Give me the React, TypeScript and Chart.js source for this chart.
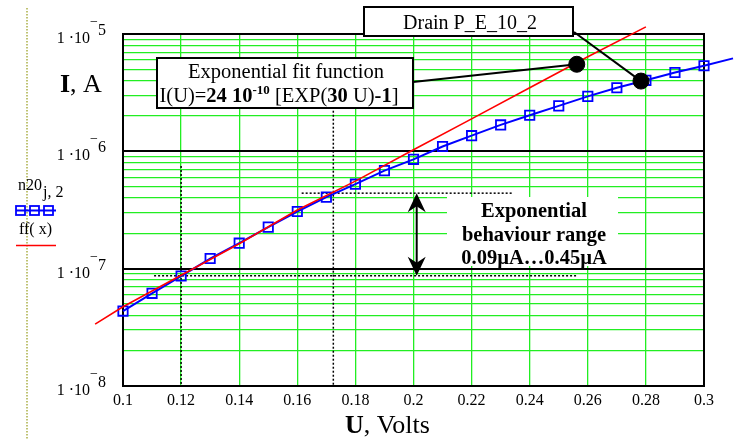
import React, { useEffect, useRef } from "react";
import { Chart, registerables } from "chart.js";

Chart.register(...registerables);

// ---- data ----
const uValues = [0.1, 0.11, 0.12, 0.13, 0.14, 0.15, 0.16, 0.17, 0.18, 0.19, 0.2, 0.21, 0.22, 0.23, 0.24, 0.25, 0.26, 0.27, 0.28, 0.29, 0.3, 0.31];
const iValues = [4.35e-8, 6.16e-8, 8.65e-8, 1.22e-7, 1.65e-7, 2.26e-7, 3.07e-7, 4.07e-7, 5.25e-7, 6.85e-7, 8.55e-7, 1.1e-6, 1.36e-6, 1.68e-6, 2.03e-6, 2.44e-6, 2.94e-6, 3.48e-6, 4.03e-6, 4.7e-6, 5.36e-6, 6.2e-6];
const fitU = [0.0904, 0.1, 0.12, 0.14, 0.16, 0.18, 0.2, 0.22, 0.24, 0.26, 0.28];
const fitI = [3.37e-8, 4.74e-8, 8.8e-8, 1.63e-7, 3.16e-7, 5.57e-7, 1.03e-6, 1.89e-6, 3.48e-6, 6.39e-6, 1.15e-5];
const markerU = [0.2562, 0.2783];
const markerI = [5.52e-6, 3.97e-6];

// guide lines (dotted)
const guideVU = [0.12, 0.1724];
const guideVTop = [7.5e-7, 2.4e-6];
const guideHLevel = [4.4e-7, 8.7e-8];
const guideHFrom = [0.1615, 0.1107];
const guideHTo = [0.2338, 0.2563];
const arrowU = 0.2011;

// ticks
const xTicks = [0.1, 0.12, 0.14, 0.16, 0.18, 0.2, 0.22, 0.24, 0.26, 0.28, 0.3];
const yDecadeExps = [-8, -7, -6, -5];
const yMinorMult = [1, 2, 3, 4, 5, 6, 7, 8, 9];

const X_MIN = 0.1;
const X_MAX = 0.3;
const Y_MIN = 1e-8;
const Y_MAX = 1e-5;

const FONT = "'Liberation Serif', 'Times New Roman', serif";

type Run = { t: string; bold?: boolean; size: number; dy?: number };

function fontOf(r: Run) {
  return `${r.bold ? "bold " : ""}${r.size}px ${FONT}`;
}
function runsWidth(ctx: CanvasRenderingContext2D, runs: Run[]) {
  let w = 0;
  for (const r of runs) {
    ctx.font = fontOf(r);
    w += ctx.measureText(r.t).width;
  }
  return w;
}
function drawRuns(ctx: CanvasRenderingContext2D, runs: Run[], x: number, y: number, align: "left" | "center" | "right") {
  const w = runsWidth(ctx, runs);
  let cx = align === "left" ? x : align === "center" ? x - w / 2 : x - w;
  ctx.textAlign = "left";
  ctx.textBaseline = "alphabetic";
  for (const r of runs) {
    ctx.font = fontOf(r);
    ctx.fillText(r.t, cx, y + (r.dy || 0));
    cx += ctx.measureText(r.t).width;
  }
}

function isDecade(v: number) {
  const l = Math.log10(v);
  return Math.abs(l - Math.round(l)) < 1e-6;
}

const overlay = {
  id: "overlay",
  beforeDatasetsDraw(chart: any) {
    const { ctx, chartArea: a } = chart;
    const xs = chart.scales.x;
    const ys = chart.scales.y;
    ctx.save();
    // frame
    ctx.strokeStyle = "#000";
    ctx.lineWidth = 2;
    ctx.setLineDash([]);
    ctx.strokeRect(a.left, a.top, a.right - a.left, a.bottom - a.top);

    // white area behind range text
    ctx.fillStyle = "#fff";
    ctx.fillRect(447, 197, 171, 69);

    // dotted guides
    ctx.strokeStyle = "#000";
    ctx.lineWidth = 1.5;
    ctx.setLineDash([2, 2]);
    guideVU.forEach((u, i) => {
      const px = xs.getPixelForValue(u);
      ctx.beginPath();
      ctx.moveTo(px, ys.getPixelForValue(guideVTop[i]));
      ctx.lineTo(px, ys.getPixelForValue(Y_MIN));
      ctx.stroke();
    });
    guideHLevel.forEach((lv, i) => {
      const py = ys.getPixelForValue(lv);
      ctx.beginPath();
      ctx.moveTo(xs.getPixelForValue(guideHFrom[i]), py);
      ctx.lineTo(xs.getPixelForValue(guideHTo[i]), py);
      ctx.stroke();
    });
    ctx.setLineDash([]);

    // double arrow
    const ax = xs.getPixelForValue(arrowU);
    const yTop = ys.getPixelForValue(guideHLevel[0]);
    const yBot = ys.getPixelForValue(guideHLevel[1]);
    ctx.lineWidth = 2;
    ctx.beginPath();
    ctx.moveTo(ax, yTop + 10);
    ctx.lineTo(ax, yBot - 10);
    ctx.stroke();
    ctx.fillStyle = "#000";
    ctx.beginPath();
    ctx.moveTo(ax, yTop);
    ctx.lineTo(ax - 9, yTop + 19);
    ctx.lineTo(ax, yTop + 13);
    ctx.lineTo(ax + 9, yTop + 19);
    ctx.closePath();
    ctx.fill();
    ctx.beginPath();
    ctx.moveTo(ax, yBot);
    ctx.lineTo(ax - 9, yBot - 19);
    ctx.lineTo(ax, yBot - 13);
    ctx.lineTo(ax + 9, yBot - 19);
    ctx.closePath();
    ctx.fill();

    // range text
    ctx.fillStyle = "#000";
    drawRuns(ctx, [{ t: "Exponential", bold: true, size: 20.5 }], 534, 217, "center");
    drawRuns(ctx, [{ t: "behaviour range", bold: true, size: 20.5 }], 534, 241, "center");
    drawRuns(ctx, [{ t: "0.09\u00b5A\u20260.45\u00b5A", bold: true, size: 20.5 }], 534, 264, "center");
    ctx.restore();
  },
  afterDraw(chart: any) {
    const { ctx } = chart;
    const xs = chart.scales.x;
    const ys = chart.scales.y;
    ctx.save();
    ctx.setLineDash([]);
    ctx.fillStyle = "#000";
    ctx.strokeStyle = "#000";

    const m1x = xs.getPixelForValue(markerU[0]);
    const m1y = ys.getPixelForValue(markerI[0]);
    const m2x = xs.getPixelForValue(markerU[1]);
    const m2y = ys.getPixelForValue(markerI[1]);

    // connectors
    ctx.lineWidth = 2;
    ctx.beginPath();
    ctx.moveTo(413, 82);
    ctx.lineTo(m1x, m1y);
    ctx.stroke();
    ctx.beginPath();
    ctx.moveTo(574, 32);
    ctx.lineTo(m2x, m2y);
    ctx.stroke();

    // fit box
    ctx.fillStyle = "#fff";
    ctx.fillRect(157, 58, 256, 50);
    ctx.lineWidth = 2;
    ctx.strokeRect(157, 58, 256, 50);
    ctx.fillStyle = "#000";
    drawRuns(ctx, [{ t: "Exponential fit function", size: 20.5 }], 286, 78, "center");
    drawRuns(
      ctx,
      [
        { t: "I(U)=", size: 20.5 },
        { t: "24 10", bold: true, size: 20.5 },
        { t: "-10", bold: true, size: 13, dy: -8 },
        { t: " [EXP(", size: 20.5 },
        { t: "30", bold: true, size: 20.5 },
        { t: " U)", size: 20.5 },
        { t: "-1", bold: true, size: 20.5 },
        { t: "]", size: 20.5 },
      ],
      279,
      102,
      "center"
    );

    // drain box
    ctx.fillStyle = "#fff";
    ctx.fillRect(364, 7, 209, 29);
    ctx.lineWidth = 2;
    ctx.strokeRect(364, 7, 209, 29);
    ctx.fillStyle = "#000";
    drawRuns(ctx, [{ t: "Drain P_E_10_2", size: 20 }], 470, 29, "center");

    // y tick labels
    for (const e of yDecadeExps) {
      const py = ys.getPixelForValue(Math.pow(10, e));
      drawRuns(
        ctx,
        [
          { t: "1 \u00b710", size: 16 },
          { t: "\u2212", size: 14, dy: -17 },
          { t: String(-e), size: 16, dy: -8 },
        ],
        106,
        py + 9,
        "right"
      );
    }

    // x tick labels
    for (const v of xTicks) {
      const px = xs.getPixelForValue(v);
      drawRuns(ctx, [{ t: String(Number(v.toFixed(2))), size: 16 }], px, 405, "center");
    }

    // axis titles
    drawRuns(ctx, [{ t: "I", bold: true, size: 26 }, { t: ", A", size: 26 }], 60, 92, "left");
    drawRuns(ctx, [{ t: "U", bold: true, size: 26 }, { t: ", Volts", size: 26 }], 345, 433, "left");

    // olive dotted line on the left
    ctx.strokeStyle = "rgb(170,175,70)";
    ctx.lineWidth = 1.5;
    ctx.setLineDash([1.5, 1.5]);
    ctx.beginPath();
    ctx.moveTo(27, 8);
    ctx.lineTo(27, 439);
    ctx.stroke();
    ctx.setLineDash([]);

    // legend
    ctx.fillStyle = "#000";
    drawRuns(ctx, [{ t: "n20", size: 16 }], 18, 190, "left");
    drawRuns(ctx, [{ t: "j, 2", size: 16 }], 43, 197, "left");
    ctx.strokeStyle = "#0000ff";
    ctx.lineWidth = 2;
    ctx.beginPath();
    ctx.moveTo(16, 210.5);
    ctx.lineTo(56, 210.5);
    ctx.stroke();
    ctx.lineWidth = 1.8;
    for (const cx of [20.5, 34.5, 48.5]) {
      ctx.strokeRect(cx - 4.5, 206, 9, 9);
    }
    drawRuns(ctx, [{ t: "ff( x)", size: 16 }], 19, 234, "left");
    ctx.strokeStyle = "#ff0000";
    ctx.lineWidth = 1.5;
    ctx.beginPath();
    ctx.moveTo(16, 245.5);
    ctx.lineTo(56, 245.5);
    ctx.stroke();

    ctx.restore();
  },
};

export default function App() {
  const ref = useRef<HTMLCanvasElement | null>(null);
  useEffect(() => {
    if (!ref.current) return;
    const yTickVals: number[] = [];
    for (const e of yDecadeExps) {
      for (const m of yMinorMult) {
        const v = m * Math.pow(10, e);
        if (v <= Y_MAX * 1.0001) yTickVals.push(v);
      }
    }
    const chart = new Chart(ref.current, {
      type: "line",
      data: {
        datasets: [
          {
            label: "markers",
            data: markerU.map((u, i) => ({ x: u, y: markerI[i] })),
            showLine: false,
            pointRadius: 8,
            pointStyle: "circle",
            pointBackgroundColor: "#000",
            pointBorderColor: "#000",
            order: 0,
            clip: false,
          } as any,
          {
            label: "ff(x)",
            data: fitU.map((u, i) => ({ x: u, y: fitI[i] })),
            borderColor: "#ff0000",
            borderWidth: 1.6,
            pointRadius: 0,
            tension: 0,
            order: 1,
            clip: false,
          } as any,
          {
            label: "n20",
            data: uValues.map((u, i) => ({ x: u, y: iValues[i] })),
            borderColor: "#0000ff",
            borderWidth: 2,
            pointStyle: "rect",
            pointRadius: (c: any) => (c.raw && c.raw.x > X_MAX + 1e-9 ? 0 : 6.6),
            pointBorderColor: "#0000ff",
            pointBackgroundColor: "rgba(0,0,0,0)",
            pointBorderWidth: 1.8,
            tension: 0,
            order: 2,
            clip: false,
          } as any,
        ],
      },
      options: {
        responsive: false,
        animation: false,
        devicePixelRatio: 1,
        events: [],
        layout: { padding: { left: 123, right: 35, top: 34, bottom: 53 } },
        plugins: { legend: { display: false }, tooltip: { enabled: false } },
        scales: {
          x: {
            type: "linear",
            ticks: { display: false },
            border: { display: false },
            grid: { color: "#22ee22", lineWidth: 1.3, drawTicks: false },
            afterDataLimits: (s: any) => {
              s.min = X_MIN;
              s.max = X_MAX;
            },
            afterBuildTicks: (s: any) => {
              s.ticks = xTicks.map((v) => ({ value: v }));
            },
          },
          y: {
            type: "logarithmic",
            ticks: { display: false },
            border: { display: false },
            grid: {
              drawTicks: false,
              color: (c: any) => (c.tick && isDecade(c.tick.value) ? "#000" : "#22ee22"),
              lineWidth: (c: any) => (c.tick && isDecade(c.tick.value) ? 2 : 1.3),
            },
            afterDataLimits: (s: any) => {
              s.min = Y_MIN;
              s.max = Y_MAX;
            },
            afterBuildTicks: (s: any) => {
              s.ticks = yTickVals.map((v) => ({ value: v }));
            },
          },
        },
      } as any,
      plugins: [overlay],
    });
    return () => chart.destroy();
  }, []);
  return (
    <div style={{ position: "fixed", left: 0, top: 0, width: 739, height: 439, background: "#fff" }}>
      <canvas ref={ref} width={739} height={439} style={{ display: "block" }} />
    </div>
  );
}
